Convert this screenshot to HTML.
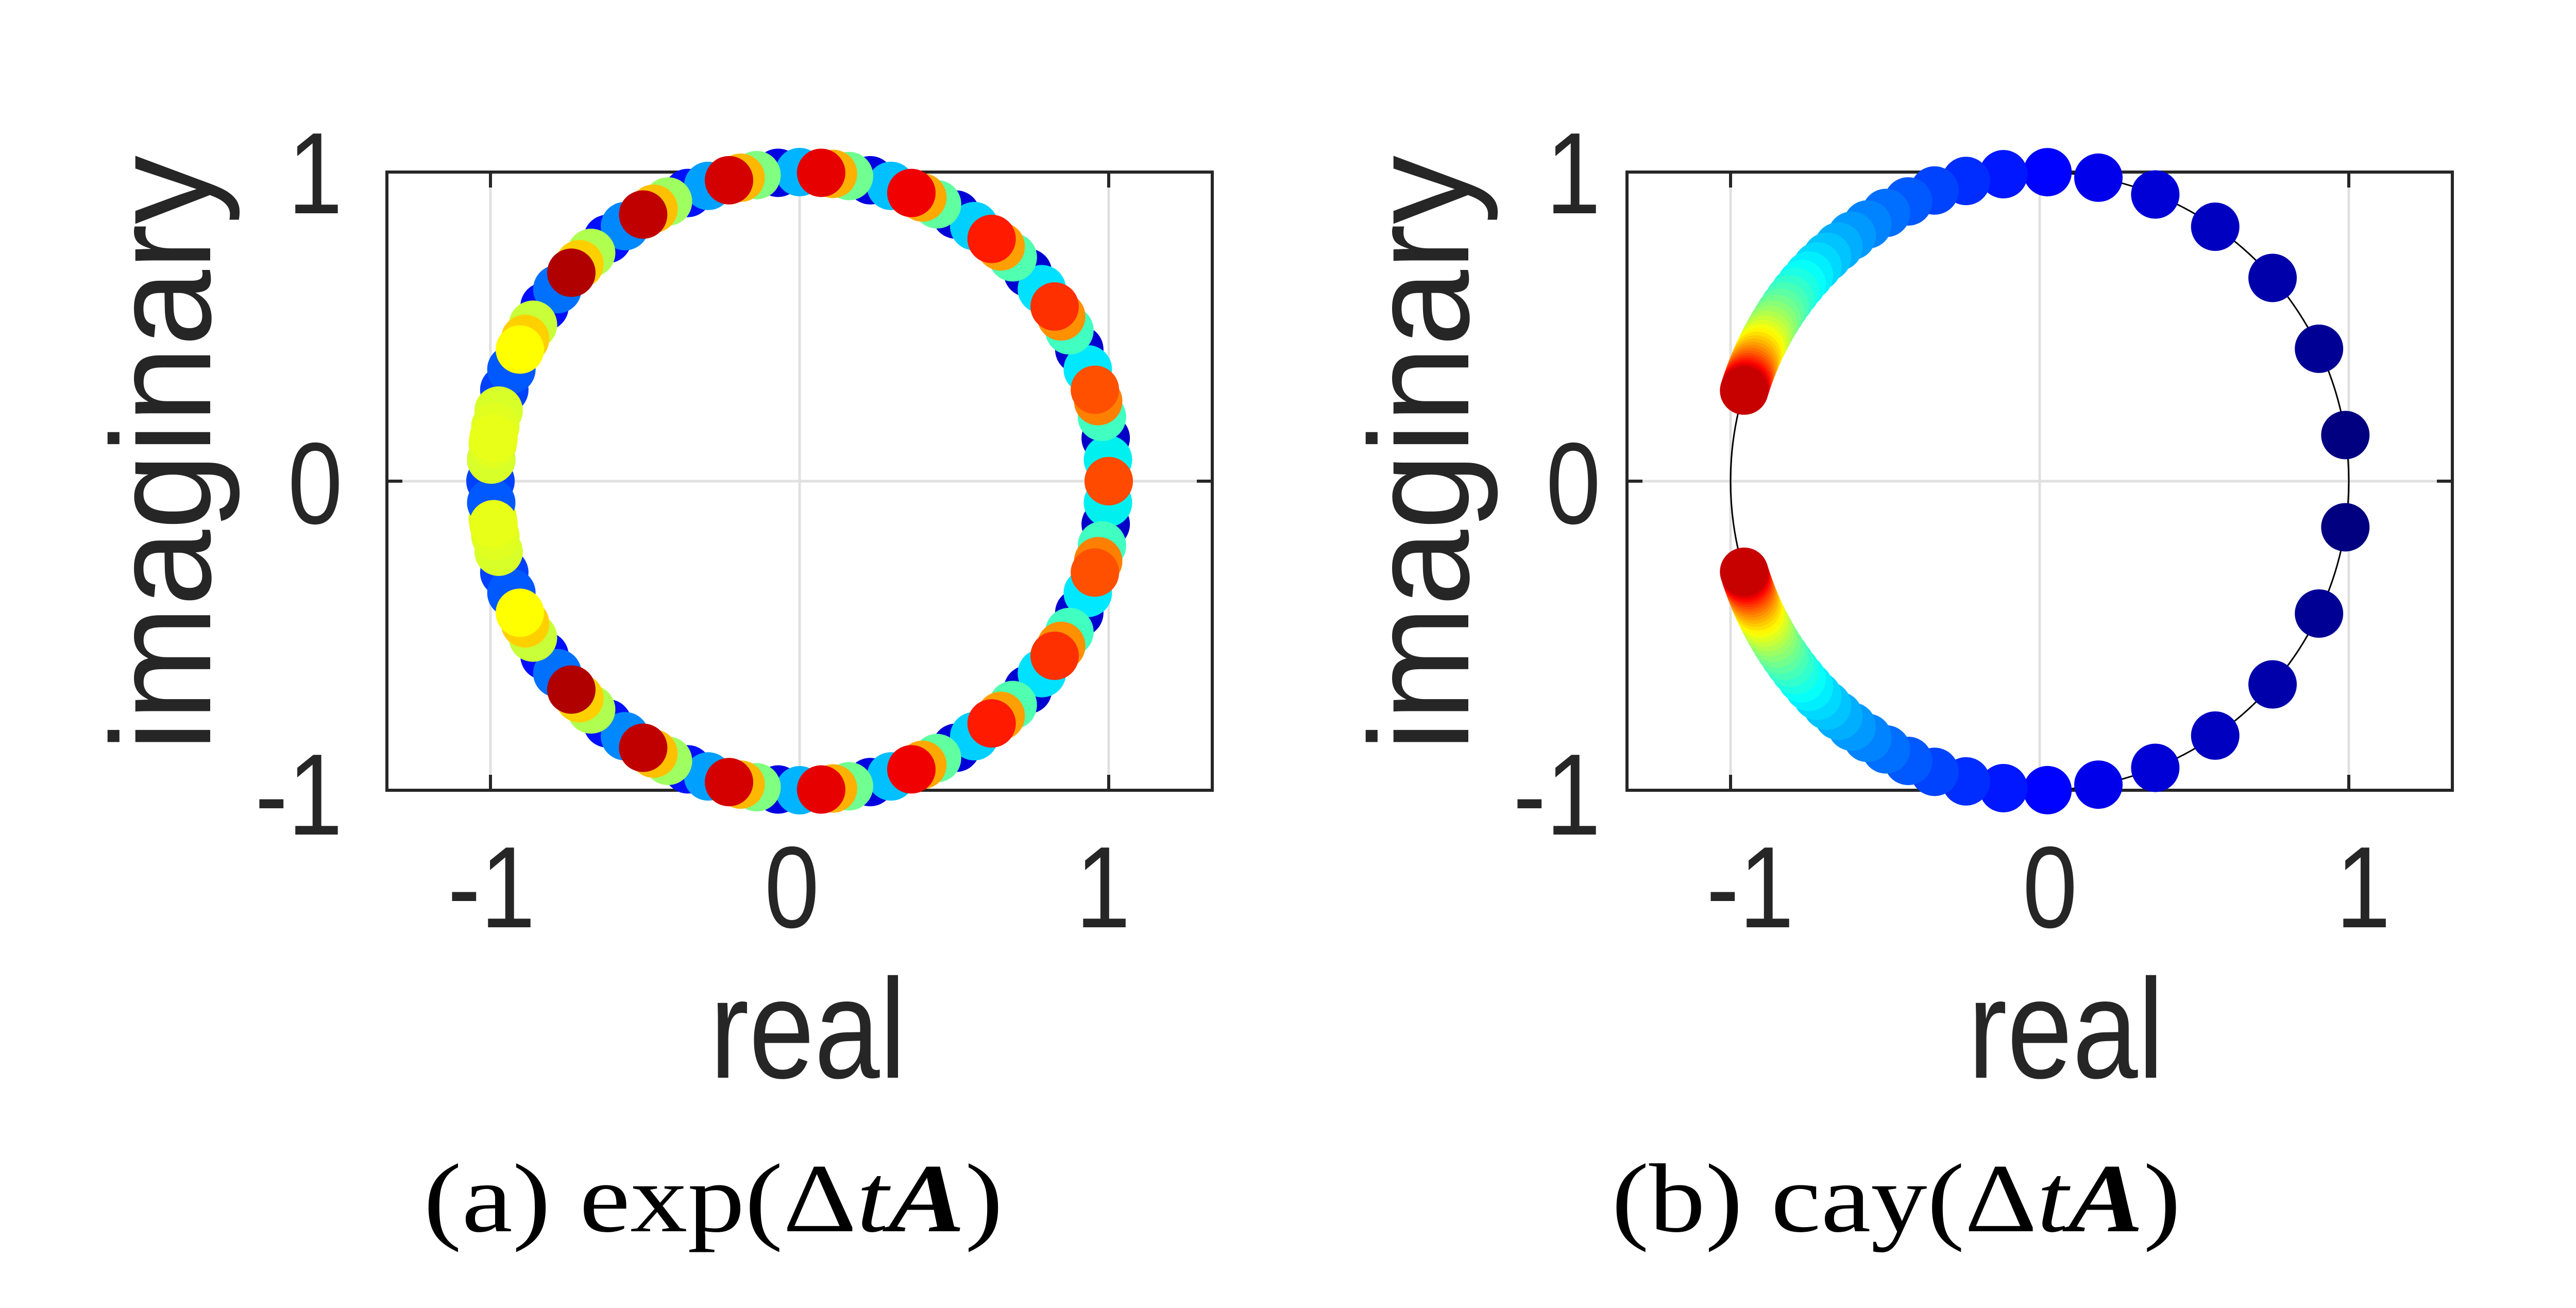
<!DOCTYPE html>
<html><head><meta charset="utf-8"><style>
html,body{margin:0;padding:0;background:#fff;}
svg{display:block;}
</style></head><body>
<svg id="s" width="5046" height="2539" viewBox="0 0 5046 2539" xmlns="http://www.w3.org/2000/svg">
<rect width="5046" height="2539" fill="#fff"/>
<g id="gl"></g>
<g id="gr"></g>
<g font-family="Liberation Sans, sans-serif" fill="#262626">
<g font-size="225">
<text transform="translate(665,414) scale(0.85,1)" text-anchor="end">1</text>
<text transform="translate(665,1016) scale(0.85,1)" text-anchor="end">0</text>
<text transform="translate(665,1620) scale(0.85,1)" text-anchor="end">-1</text>
<text transform="translate(954,1800) scale(0.85,1)" text-anchor="middle">-1</text>
<text transform="translate(1537,1800) scale(0.85,1)" text-anchor="middle">0</text>
<text transform="translate(2141,1800) scale(0.85,1)" text-anchor="middle">1</text>
<text transform="translate(3107,414) scale(0.85,1)" text-anchor="end">1</text>
<text transform="translate(3107,1016) scale(0.85,1)" text-anchor="end">0</text>
<text transform="translate(3107,1620) scale(0.85,1)" text-anchor="end">-1</text>
<text transform="translate(3397,1800) scale(0.85,1)" text-anchor="middle">-1</text>
<text transform="translate(3979,1800) scale(0.85,1)" text-anchor="middle">0</text>
<text transform="translate(4587,1800) scale(0.85,1)" text-anchor="middle">1</text>
</g>
<g font-size="275">
<text transform="translate(1568,2092) scale(0.83,1)" text-anchor="middle">real</text>
<text transform="translate(4010,2092) scale(0.83,1)" text-anchor="middle">real</text>
<text transform="translate(408,880) rotate(-90) scale(0.97,1)" text-anchor="middle">imaginary</text>
<text transform="translate(2850,880) rotate(-90) scale(0.97,1)" text-anchor="middle">imaginary</text>
</g>
</g>
<g font-family="Liberation Serif, serif" fill="#000" font-size="190">
<text x="822" y="2390" textLength="1125" lengthAdjust="spacingAndGlyphs">(a) exp(Δ<tspan font-style="italic">t</tspan><tspan font-weight="bold" font-style="italic">A</tspan>)</text>
<text x="3128" y="2390" textLength="1105" lengthAdjust="spacingAndGlyphs">(b) cay(Δ<tspan font-style="italic">t</tspan><tspan font-weight="bold" font-style="italic">A</tspan>)</text>
</g>
</svg>
<script>
(function(){
var NS="http://www.w3.org/2000/svg";
function el(p,t,a){var e=document.createElementNS(NS,t);for(var k in a)e.setAttribute(k,a[k]);p.appendChild(e);return e;}
function axes(g,cx,cy,u){
  var L=cx-1.335*u,R=cx+1.335*u,T=cy-u,B=cy+u;
  [-1,0,1].forEach(function(v){el(g,'line',{x1:cx+v*u,x2:cx+v*u,y1:T,y2:B,stroke:'#e0e0e0','stroke-width':5});});
  el(g,'line',{x1:L,x2:R,y1:cy,y2:cy,stroke:'#e0e0e0','stroke-width':5});
  el(g,'rect',{x:L,y:T,width:R-L,height:B-T,fill:'none',stroke:'#262626','stroke-width':6});
  [-1,0,1].forEach(function(v){var x=cx+v*u;
    el(g,'line',{x1:x,x2:x,y1:T,y2:T+30,stroke:'#262626','stroke-width':6});
    el(g,'line',{x1:x,x2:x,y1:B,y2:B-30,stroke:'#262626','stroke-width':6});});
  [-1,0,1].forEach(function(v){var y=cy-v*u;
    el(g,'line',{x1:L,x2:L+30,y1:y,y2:y,stroke:'#262626','stroke-width':6});
    el(g,'line',{x1:R,x2:R-30,y1:y,y2:y,stroke:'#262626','stroke-width':6});});
}
var gl=document.getElementById('gl'),gr=document.getElementById('gr');
var cxL=1552,cy=934,u=600,r=47,cxR=3959;
axes(gl,cxL,cy,u);axes(gr,cxR,cy,u);
function dot(g,cx,a,c){var t=a*Math.PI/180;el(g,'circle',{cx:cx+u*Math.cos(t),cy:cy-u*Math.sin(t),r:r,fill:c});}
var main=['#ff4a00','#ff5000','#ff3000','#ff1a00','#f00000','#e60000','#d40000','#c00000','#b00000','#ffff00','#e8ff18'];
var c1=['#00f0f0','#00e8ff','#00e0ff','#00d0ff','#00c0ff','#00b4ff','#00a0ff','#0088ff','#0070ff','#0058ff','#0058ff'];
var c2=['#0000c8','#0000d0','#0000d0','#0000d8','#0000e0','#0000e0','#0010ff','#0010ff','#0010ff','#0040ff','#0040ff'];
var c3=['#40ffc0','#40ffc0','#50ffb0','#60ffa0','#70ff90','#80ff80','#a0ff60','#b0ff50','#c8ff38','#d8ff28','#d8ff28'];
var c4=['#ff8000','#ff9000','#ffa000','#ffa800','#ffb000','#ffb800','#ffc000','#ffd000','#ffd000','#e0ff20','#e0ff20'];
var st=17.2;
[1,-1].forEach(function(s){
 for(var k=10;k>=0;k--){var th=k*st;
  dot(gl,cxL,s*(th+8),c2[k]);
  dot(gl,cxL,s*(th+4),c1[k]);
  dot(gl,cxL,s*(th+12),c3[k]);
  dot(gl,cxL,s*(th+15),c4[k]);
 }
});
[1,-1].forEach(function(s){for(var k=10;k>=0;k--)dot(gl,cxL,s*k*st,main[k]);});
el(gr,'circle',{cx:cxR,cy:cy,r:u,fill:'none',stroke:'#000','stroke-width':3});
function cl(x){return Math.max(0,Math.min(1,x));}
function jet(t){var R=cl(1.5-Math.abs(4*t-3)),G=cl(1.5-Math.abs(4*t-2)),B=cl(1.5-Math.abs(4*t-1));
 return 'rgb('+Math.round(R*255)+','+Math.round(G*255)+','+Math.round(B*255)+')';}
var N=44;
for(var n=0;n<=N;n++){var a=2*Math.atan(0.150*(n+0.5))*180/Math.PI;var c=jet(0.93*n/N);
 dot(gr,cxR,a,c);dot(gr,cxR,-a,c);}
})();
</script>
</body></html>
